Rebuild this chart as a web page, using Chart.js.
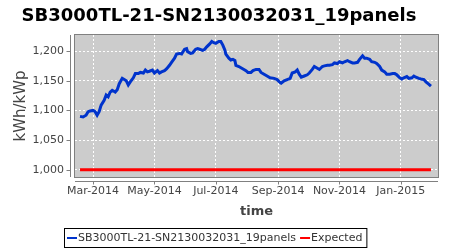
<!DOCTYPE html>
<html>
<head>
<meta charset="utf-8">
<script src="https://cdn.jsdelivr.net/npm/chart.js@4.4.1/dist/chart.umd.min.js"></script>
<style>
  html, body { margin: 0; padding: 0; background: #ffffff; }
  #wrap { width: 450px; height: 250px; }
</style>
</head>
<body>
<div id="wrap"><canvas id="myChart" width="450" height="250"></canvas></div>
<script>
// Values
const seriesName = "SB3000TL-21-SN2130032031_19panels";
const dates = [
    "2014-02-16", "2014-02-19", "2014-02-22", "2014-02-24", "2014-02-26", "2014-03-01", "2014-03-03", "2014-03-05",
    "2014-03-07", "2014-03-09", "2014-03-12", "2014-03-14", "2014-03-16", "2014-03-18", "2014-03-20", "2014-03-23",
    "2014-03-25", "2014-03-27", "2014-03-30", "2014-04-01", "2014-04-03", "2014-04-05", "2014-04-07", "2014-04-10",
    "2014-04-12", "2014-04-15", "2014-04-17", "2014-04-20", "2014-04-22", "2014-04-24", "2014-04-26", "2014-04-29",
    "2014-05-01", "2014-05-04", "2014-05-06", "2014-05-08", "2014-05-11", "2014-05-13", "2014-05-16", "2014-05-18",
    "2014-05-21", "2014-05-23", "2014-05-26", "2014-05-28", "2014-05-31", "2014-06-02", "2014-06-03", "2014-06-06",
    "2014-06-08", "2014-06-11", "2014-06-13", "2014-06-15", "2014-06-18", "2014-06-20", "2014-06-22", "2014-06-25",
    "2014-06-27", "2014-06-29", "2014-07-01", "2014-07-04", "2014-07-06", "2014-07-08", "2014-07-10", "2014-07-11",
    "2014-07-14", "2014-07-16", "2014-07-18", "2014-07-20", "2014-07-21", "2014-07-24", "2014-07-26", "2014-07-29",
    "2014-07-31", "2014-08-02", "2014-08-05", "2014-08-07", "2014-08-10", "2014-08-13", "2014-08-15", "2014-08-18",
    "2014-08-21", "2014-08-24", "2014-08-28", "2014-08-31", "2014-09-03", "2014-09-04", "2014-09-07", "2014-09-10",
    "2014-09-13", "2014-09-15", "2014-09-18", "2014-09-20", "2014-09-22", "2014-09-24", "2014-09-27", "2014-09-30",
    "2014-10-02", "2014-10-05", "2014-10-07", "2014-10-10", "2014-10-12", "2014-10-15", "2014-10-17", "2014-10-20",
    "2014-10-22", "2014-10-25", "2014-10-27", "2014-10-30", "2014-11-01", "2014-11-04", "2014-11-06", "2014-11-09",
    "2014-11-11", "2014-11-14", "2014-11-16", "2014-11-19", "2014-11-21", "2014-11-24", "2014-11-26", "2014-11-28",
    "2014-12-01", "2014-12-03", "2014-12-06", "2014-12-08", "2014-12-11", "2014-12-13", "2014-12-16", "2014-12-18",
    "2014-12-21", "2014-12-24", "2014-12-26", "2014-12-28", "2014-12-31", "2015-01-02", "2015-01-04", "2015-01-07",
    "2015-01-09", "2015-01-12", "2015-01-14", "2015-01-16", "2015-01-19", "2015-01-21", "2015-01-24", "2015-01-26",
    "2015-01-29", "2015-01-31"
];
const yieldValues = [
    1090, 1089, 1092, 1098, 1099, 1100, 1098, 1092,
    1098, 1109, 1117, 1126, 1123, 1131, 1134, 1131,
    1135, 1145, 1154, 1152, 1150, 1143, 1148, 1155,
    1162, 1162, 1164, 1163, 1168, 1165, 1166, 1168,
    1163, 1167, 1163, 1165, 1167, 1170, 1176, 1181,
    1188, 1195, 1196, 1195, 1203, 1204, 1199, 1196,
    1197, 1203, 1204, 1203, 1201, 1203, 1207, 1212,
    1216, 1214, 1213, 1216, 1216, 1210, 1202, 1195,
    1188, 1185, 1186, 1184, 1176, 1174, 1172, 1169,
    1167, 1164, 1164, 1167, 1169, 1169, 1164, 1161,
    1158, 1155, 1154, 1152, 1147, 1146, 1150, 1152,
    1154, 1163, 1165, 1168, 1161, 1156, 1158, 1160,
    1163, 1169, 1174, 1171, 1169, 1174, 1175, 1176,
    1176, 1177, 1180, 1179, 1182, 1180, 1182, 1184,
    1182, 1180, 1180, 1181, 1186, 1192, 1188, 1188,
    1186, 1182, 1181, 1179, 1174, 1168, 1165, 1161,
    1161, 1162, 1162, 1160, 1155, 1153, 1155, 1157,
    1154, 1155, 1158, 1156, 1154, 1153, 1152, 1148,
    1144, 1141
];
const expectedDates = ["2014-02-16", "2015-01-31"];
const expectedValues = [1000, 1000];

const xTickDates = ["2014-03-01", "2014-05-01", "2014-07-01", "2014-09-01", "2014-11-01", "2015-01-01"];
const xTickLabels = ["Mar-2014", "May-2014", "Jul-2014", "Sep-2014", "Nov-2014", "Jan-2015"];
const yTickValues = [1000, 1050, 1100, 1150, 1200];
const yTickLabels = ["1,000", "1,050", "1,100", "1,150", "1,200"];

// days since 1 March 2014
const origin = Date.UTC(2014, 2, 1);
function day(s) {
    const p = s.split("-");
    return (Date.UTC(+p[0], +p[1] - 1, +p[2]) - origin) / 86400000;
}

const blueData = dates.map((d, i) => ({ x: day(d), y: yieldValues[i] }));
const redData = expectedDates.map((d, i) => ({ x: day(d), y: expectedValues[i] }));
const xTicks = xTickDates.map(day);

const axisGrey = "#808080";

// plot background, axis lines offset from the plot, tick marks, legend box
const plotDecor = {
    id: "plotDecor",
    beforeDraw(chart) {
        const a = chart.chartArea, c = chart.ctx;
        c.save();
        c.fillStyle = "#cccccc";
        c.fillRect(a.left, a.top, a.right - a.left, a.bottom - a.top);
        c.restore();
    },
    beforeDatasetsDraw(chart) {
        const a = chart.chartArea, c = chart.ctx;
        const xs = chart.scales.x, ys = chart.scales.y;
        c.save();
        c.strokeStyle = axisGrey;
        c.lineWidth = 1;
        c.strokeRect(a.left - 0.5, a.top - 0.5, a.right - a.left + 1, a.bottom - a.top + 1);
        // y axis line and ticks
        const ax = a.left - 4.5;
        c.beginPath();
        c.moveTo(ax, a.top);
        c.lineTo(ax, a.bottom);
        ys.ticks.forEach(t => {
            const py = Math.round(ys.getPixelForValue(t.value)) + 0.5;
            c.moveTo(ax - 4, py);
            c.lineTo(ax, py);
        });
        // x axis line and ticks
        const ay = a.bottom + 4.5;
        c.moveTo(a.left, ay);
        c.lineTo(a.right, ay);
        xs.ticks.forEach(t => {
            const px = Math.round(xs.getPixelForValue(t.value)) + 0.5;
            c.moveTo(px, ay);
            c.lineTo(px, ay + 3);
        });
        c.stroke();
        c.restore();
    },
    afterDraw(chart) {
        const c = chart.ctx;
        c.save();
        c.font = "11px 'DejaVu Sans'";
        c.textBaseline = "middle";
        const top = 228, h = 20, cy = top + h / 2;
        let x = 67;
        const startX = 64;
        chart.data.datasets.forEach(ds => {
            c.strokeStyle = ds.borderColor;
            c.lineWidth = 2;
            c.beginPath();
            c.moveTo(x, cy);
            c.lineTo(x + 10, cy);
            c.stroke();
            x += 11;
            c.fillStyle = "#333333";
            c.fillText(ds.label, x, cy);
            x += c.measureText(ds.label).width + 4;
        });
        c.strokeStyle = "#000000";
        c.lineWidth = 1;
        c.strokeRect(startX + 0.5, top + 0.5, x - startX, h - 1);
        c.restore();
    }
};

const ctx = document.getElementById("myChart");
new Chart(ctx, {
    type: "line",
    data: {
        datasets: [{
            label: seriesName,
            data: blueData,
            borderColor: "#0033cc",
            borderWidth: 3,
            pointRadius: 0,
            tension: 0
        }, {
            label: "Expected",
            data: redData,
            borderColor: "#ff0000",
            borderWidth: 3,
            pointRadius: 0,
            tension: 0
        }]
    },
    plugins: [plotDecor],
    options: {
        responsive: false,
        animation: false,
        layout: { padding: { left: 0, right: 12, top: 0, bottom: 24 } },
        plugins: {
            legend: { display: false },
            tooltip: { enabled: false },
            title: {
                display: true,
                text: seriesName,
                color: "#000000",
                font: { family: "'DejaVu Sans'", size: 18, weight: "bold" },
                padding: { top: 6, bottom: 7.4 }
            }
        },
        scales: {
            x: {
                type: "linear",
                min: day("2014-02-11"),
                max: day("2015-02-07"),
                afterBuildTicks: s => { s.ticks = xTicks.map(v => ({ value: v })); },
                afterFit: s => { s.height = 49; },
                ticks: {
                    padding: 8,
                    color: "#444444",
                    font: { family: "'DejaVu Sans'", size: 11 },
                    maxRotation: 0,
                    autoSkip: false,
                    callback: (v, i) => xTickLabels[i]
                },
                grid: { color: "#ffffff", drawTicks: false },
                border: { display: false, dash: [2, 2] },
                title: {
                    display: true,
                    text: "time",
                    color: "#444444",
                    font: { family: "'DejaVu Sans'", size: 13, weight: "bold" },
                    padding: { top: 0, bottom: 7 }
                }
            },
            y: {
                min: 988,
                max: 1227,
                afterBuildTicks: s => { s.ticks = yTickValues.map(v => ({ value: v })); },
                afterFit: s => { s.width = 75; },
                ticks: {
                    padding: 11,
                    color: "#444444",
                    font: { family: "'DejaVu Sans'", size: 11 },
                    callback: (v, i) => yTickLabels[i]
                },
                grid: { color: "#ffffff", drawTicks: false },
                border: { display: false, dash: [2, 2] },
                title: {
                    display: true,
                    text: "kWh/kWp",
                    color: "#444444",
                    font: { family: "'DejaVu Sans'", size: 15 },
                    padding: { top: 12, bottom: 0 }
                }
            }
        }
    }
});
</script>
</body>
</html>
